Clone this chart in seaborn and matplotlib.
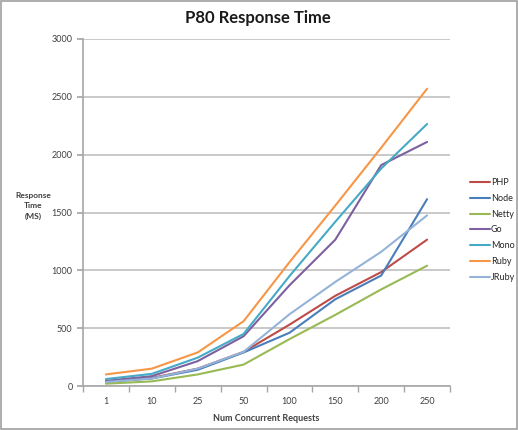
import pandas as pd
import matplotlib.pyplot as plt
import matplotlib.patches as mpatches
import seaborn as sns

# 데이터
requests = ["1", "10", "25", "50", "100", "150", "200", "250"]
php = [40, 70, 150, 295, 530, 780, 985, 1265]
node = [35, 65, 140, 290, 460, 750, 955, 1615]
netty = [20, 40, 100, 185, 405, 615, 835, 1040]
go = [45, 85, 215, 430, 870, 1265, 1910, 2110]
mono = [60, 105, 245, 450, 950, 1420, 1880, 2265]
ruby = [100, 150, 290, 560, 1070, 1560, 2060, 2570]
jruby = [35, 65, 150, 295, 620, 900, 1160, 1475]

series = ["PHP", "Node", "Netty", "Go", "Mono", "Ruby", "JRuby"]
values = [php, node, netty, go, mono, ruby, jruby]
colors = ["#BE4B48", "#4A7EBB", "#98B954", "#7D60A0", "#46AAC5", "#F79646", "#95B3D7"]

rows = []
for name, vals in zip(series, values):
    for r, v in zip(requests, vals):
        rows.append({"requests": r, "ms": v, "server": name})
df = pd.DataFrame(rows)

sns.set_theme(style="white")
plt.rcParams['font.family'] = ['Lato', 'DejaVu Sans']

fig = plt.figure(figsize=(5.18, 4.30), dpi=100)
ax = fig.add_axes([83 / 518, 1 - 386 / 430, (450 - 83) / 518, (386 - 39) / 430])

sns.lineplot(data=df, x="requests", y="ms", hue="server", hue_order=series,
             palette=colors, linewidth=1.5, ax=ax, sort=False)

ax.set_xlim(-0.5, len(requests) - 0.5)
ax.set_ylim(0, 3000)
ax.set_yticks(range(0, 3001, 500))
ax.yaxis.grid(True, color="#c0c0c0", linewidth=1.2)
ax.xaxis.grid(False)
for side in ["top", "right"]:
    ax.spines[side].set_visible(False)
for side in ["left", "bottom"]:
    ax.spines[side].set_color("#a6a6a6")
    ax.spines[side].set_linewidth(1.2)

# 엑셀 스타일 눈금: 범주 경계에 눈금 표시
ax.set_xticks([i - 0.5 for i in range(len(requests) + 1)], minor=True)
ax.tick_params(axis="x", which="major", length=0, labelsize=6.5, pad=8, colors="#404040")
ax.tick_params(axis="x", which="minor", length=4, color="#a6a6a6", direction="out", bottom=True)
ax.tick_params(axis="y", length=4, color="#a6a6a6", direction="out", left=True,
               labelsize=6.5, colors="#404040")

ax.set_xlabel("Num Concurrent Requests", fontsize=6.5, fontweight="bold", color="#404040", labelpad=6)
ax.set_ylabel("")
fig.text(33 / 518, 1 - 206 / 430, "Response\nTime\n(MS)", ha="center", va="center",
         fontsize=6, fontweight="bold", color="#404040", linespacing=1.5)

fig.text(258 / 518, 1 - 18 / 430, "P80 Response Time", ha="center", va="center",
         fontsize=12, fontweight="bold", color="#1a1a1a")

ax.legend(loc="center left", bbox_to_anchor=(462 / 518, 1 - 230 / 430),
          bbox_transform=fig.transFigure, frameon=False, fontsize=6.5,
          handlelength=2.2, handletextpad=0.1, labelspacing=0.75, title=None)

fig.patches.append(mpatches.Rectangle((0.002, 0.002), 0.996, 0.996, transform=fig.transFigure,
                                      fill=False, edgecolor="#a0a0a0", linewidth=1.2))

fig.savefig("out.png", dpi=100)
